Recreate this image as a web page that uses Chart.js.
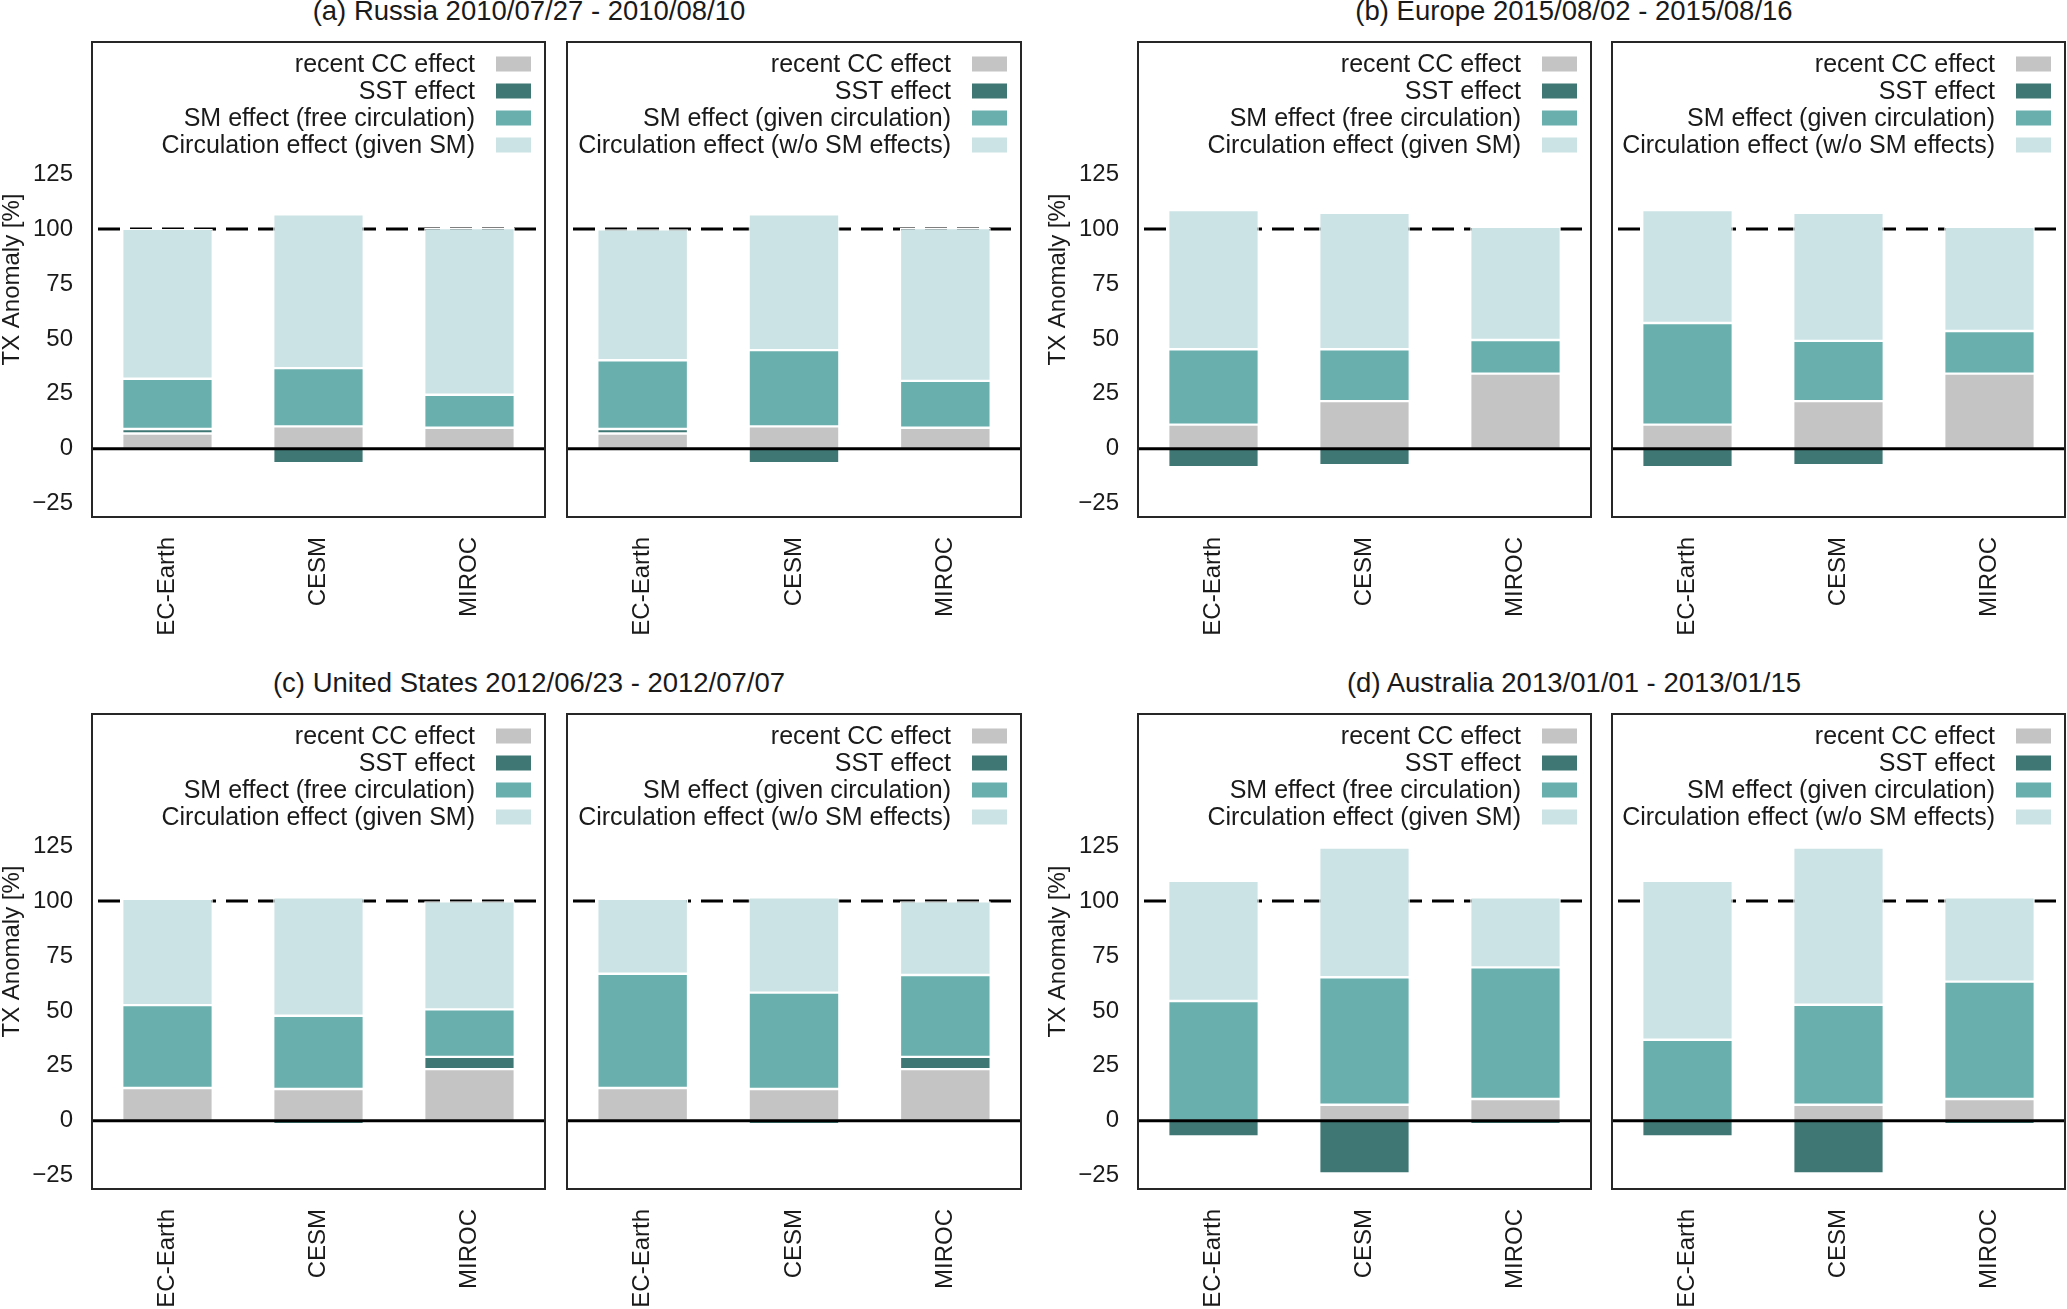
<!DOCTYPE html>
<html>
<head>
<meta charset="utf-8">
<script src="https://cdn.jsdelivr.net/npm/chart.js@4.4.1/dist/chart.umd.min.js"></script>
<style>
  body { margin: 0; background: #fff; width: 2067px; height: 1309px; position: relative; overflow: hidden;
         font-family: 'Liberation Sans', Arial, sans-serif; }
  .panel { position: absolute; }
  .title { position: absolute; font-size: 27.5px; line-height: 27.5px; color: #1a1a1a; white-space: nowrap;
           transform: translateX(-50%); }
</style>
</head>
<body>
<div class="title" style="left:529px; top:-3.5px">(a) Russia 2010/07/27 - 2010/08/10</div>
<div class="title" style="left:1574px; top:-3.5px">(b) Europe 2015/08/02 - 2015/08/16</div>
<div class="title" style="left:529px; top:668.5px">(c) United States 2012/06/23 - 2012/07/07</div>
<div class="title" style="left:1574px; top:668.5px">(d) Australia 2013/01/01 - 2013/01/15</div>

<script>
// categories and tick values
const models = ['EC-Earth', 'CESM', 'MIROC'];
const yTickValues = [-25, 0, 25, 50, 75, 100, 125];
const labelsFree = ['recent CC effect', 'SST effect', 'SM effect (free circulation)', 'Circulation effect (given SM)'];
const labelsGiven = ['recent CC effect', 'SST effect', 'SM effect (given circulation)', 'Circulation effect (w/o SM effects)'];

// (a) Russia
const russiaCC = [7, 10.2, 9.6];
const russiaSST = [2, -6.5, 0];
const russiaSMFree = [22.9, 26.5, 15];
const russiaCircFree = [68.1, 70, 75.8];
const russiaSMGiven = [31.3, 34.7, 21.3];
const russiaCircGiven = [59.5, 61.8, 69.5];

// (b) Europe
const europeCC = [11, 21.7, 34.2];
const europeSST = [-8.4, -7.5, 0];
const europeSMFree = [34.3, 23.6, 15.3];
const europeCircFree = [63.3, 62, 51.5];
const europeSMGiven = [46.2, 27.4, 19.4];
const europeCircGiven = [51.4, 58.2, 47.4];

// (c) United States
const usCC = [14.9, 14.5, 23.5];
const usSST = [0, -1.5, 5.6];
const usSMFree = [37.7, 33.3, 21.6];
const usCircFree = [48.4, 53.9, 49.1];
const usSMGiven = [52, 43.8, 37.2];
const usCircGiven = [34.1, 43.4, 33.5];

// (d) Australia
const ausCC = [0, 7.3, 9.9];
const ausSST = [-7.1, -23.9, -1.5];
const ausSMFree = [54.5, 58, 59.9];
const ausCircFree = [54.7, 59, 31.9];
const ausSMGiven = [36.9, 45.5, 53.4];
const ausCircGiven = [72.3, 71.5, 38.4];

const COLORS = ['#c4c4c4', '#3e7774', '#69afad', '#cbe3e4'];
const FONT = "'Liberation Sans', Arial, sans-serif";
Chart.defaults.font.family = FONT;
Chart.defaults.color = '#1a1a1a';

// plot-area placement of each panel: [left, top, width]
const panels = [
  { area: [92, 42, 453], yAxis: true, names: labelsFree, series: [russiaCC, russiaSST, russiaSMFree, russiaCircFree] },
  { area: [567, 42, 454], yAxis: false, names: labelsGiven, series: [russiaCC, russiaSST, russiaSMGiven, russiaCircGiven] },
  { area: [1138, 42, 453], yAxis: true, names: labelsFree, series: [europeCC, europeSST, europeSMFree, europeCircFree] },
  { area: [1612, 42, 453], yAxis: false, names: labelsGiven, series: [europeCC, europeSST, europeSMGiven, europeCircGiven] },
  { area: [92, 714, 453], yAxis: true, names: labelsFree, series: [usCC, usSST, usSMFree, usCircFree] },
  { area: [567, 714, 454], yAxis: false, names: labelsGiven, series: [usCC, usSST, usSMGiven, usCircGiven] },
  { area: [1138, 714, 453], yAxis: true, names: labelsFree, series: [ausCC, ausSST, ausSMFree, ausCircFree] },
  { area: [1612, 714, 453], yAxis: false, names: labelsGiven, series: [ausCC, ausSST, ausSMGiven, ausCircGiven] },
];

const AREA_H = 475, YAXIS_W = 92, XAXIS_H = 130, PAD_TOP = 40, PAD_RIGHT = 4, PAD_LEFT_NOAXIS = 2;

const refLines = {
  id: 'refLines',
  beforeDatasetsDraw(chart) {
    const { ctx, chartArea: a, scales: { y } } = chart;
    const py = y.getPixelForValue(100);
    ctx.save();
    ctx.strokeStyle = '#000';
    ctx.lineWidth = 3;
    ctx.setLineDash([22, 10]);
    ctx.beginPath();
    ctx.moveTo(a.left + 6, py);
    ctx.lineTo(a.right - 4, py);
    ctx.stroke();
    ctx.restore();
  },
  afterDatasetsDraw(chart) {
    const { ctx, chartArea: a, scales: { y } } = chart;
    const py = y.getPixelForValue(0);
    ctx.save();
    ctx.strokeStyle = '#000';
    ctx.lineWidth = 3;
    ctx.beginPath();
    ctx.moveTo(a.left, py);
    ctx.lineTo(a.right, py);
    ctx.stroke();
    ctx.restore();
  }
};

const frameAndLegend = {
  id: 'frameAndLegend',
  afterDraw(chart) {
    const { ctx, chartArea: a } = chart;
    ctx.save();
    ctx.strokeStyle = '#262626';
    ctx.lineWidth = 2;
    ctx.strokeRect(a.left, a.top, a.right - a.left, a.bottom - a.top);
    ctx.font = '25px ' + FONT;
    ctx.textAlign = 'right';
    ctx.textBaseline = 'middle';
    chart.data.datasets.forEach((ds, i) => {
      const cy = a.top + 22 + i * 27;
      const bx = a.right - 14 - 35;
      ctx.fillStyle = ds.backgroundColor;
      ctx.fillRect(bx, cy - 7.5, 35, 15);
      ctx.fillStyle = '#1a1a1a';
      ctx.fillText(ds.label, bx - 21, cy + 1);
    });
    ctx.restore();
  }
};

panels.forEach(p => {
  const [left, top, width] = p.area;
  const padLeft = p.yAxis ? 0 : PAD_LEFT_NOAXIS;
  const axisW = p.yAxis ? YAXIS_W : 0;
  const div = document.createElement('div');
  div.className = 'panel';
  div.style.left = (left - axisW - padLeft) + 'px';
  div.style.top = (top - PAD_TOP) + 'px';
  div.style.width = (padLeft + axisW + width + PAD_RIGHT) + 'px';
  div.style.height = (PAD_TOP + AREA_H + XAXIS_H) + 'px';
  const canvas = document.createElement('canvas');
  div.appendChild(canvas);
  document.body.appendChild(div);

  new Chart(canvas.getContext('2d'), {
    type: 'bar',
    data: {
      labels: models,
      datasets: p.series.map((vals, i) => ({
        label: p.names[i],
        data: vals,
        backgroundColor: COLORS[i],
        borderColor: '#ffffff',
        borderWidth: 1.2,
        borderSkipped: false,
        barPercentage: 0.6,
        categoryPercentage: 1.0
      }))
    },
    options: {
      responsive: true,
      maintainAspectRatio: false,
      animation: false,
      layout: { padding: { top: PAD_TOP, right: PAD_RIGHT, left: padLeft, bottom: 0 } },
      plugins: { legend: { display: false }, tooltip: { enabled: false } },
      scales: {
        x: {
          stacked: true,
          grid: { display: false, drawTicks: false },
          border: { display: false },
          ticks: { font: { size: 24 }, minRotation: 90, maxRotation: 90, padding: 20, color: '#1a1a1a' },
          afterFit: s => { s.height = XAXIS_H; }
        },
        y: {
          stacked: true,
          display: p.yAxis,
          min: -31,
          max: 185,
          grid: { display: false, drawTicks: false },
          border: { display: false },
          afterBuildTicks: s => { s.ticks = yTickValues.map(v => ({ value: v })); },
          afterFit: s => { s.width = axisW; },
          ticks: {
            font: { size: 24 }, padding: 19, color: '#1a1a1a',
            callback: v => (v < 0 ? '\u2212' + Math.abs(v) : String(v))
          },
          title: { display: true, text: 'TX Anomaly [%]', font: { size: 24, lineHeight: 1.0 }, padding: 0, color: '#1a1a1a' }
        }
      }
    },
    plugins: [refLines, frameAndLegend]
  });
});
</script>
</body>
</html>
